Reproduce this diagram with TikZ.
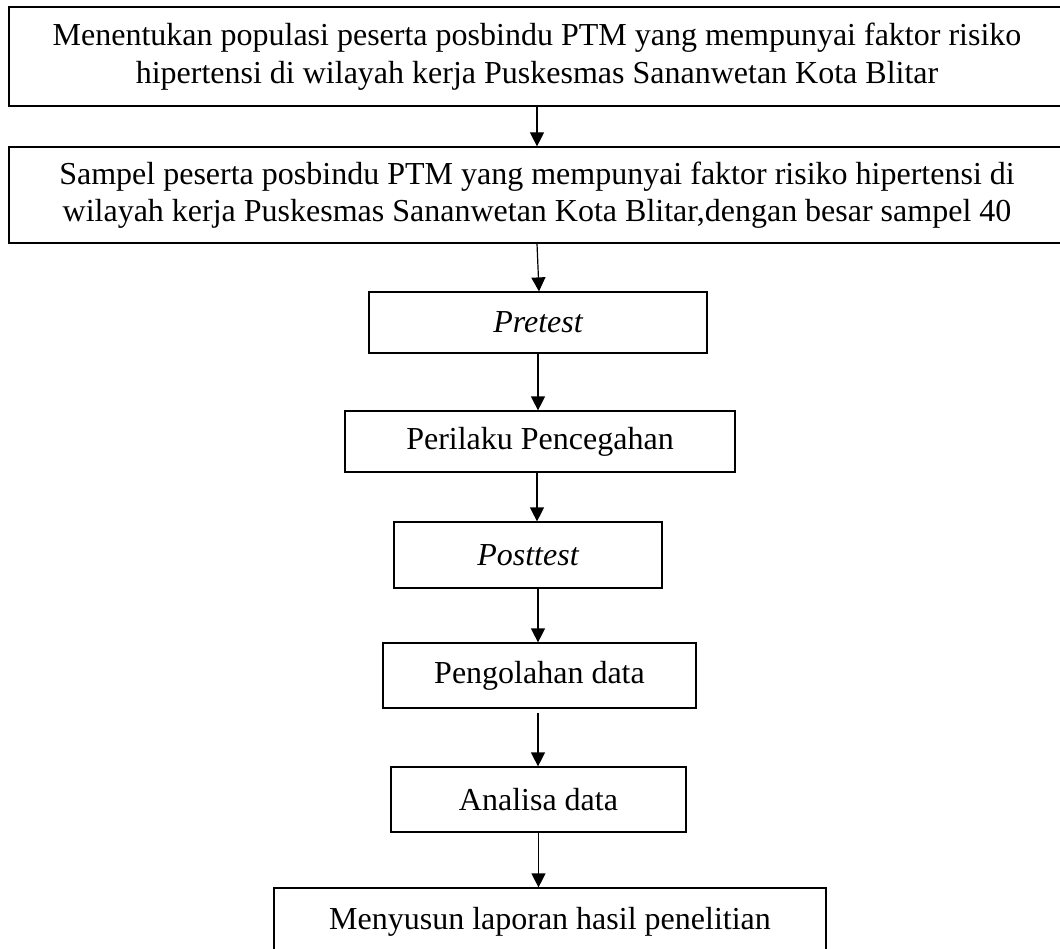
\documentclass[tikz,border=0pt]{standalone}
\usepackage{fontspec}
\setmainfont{Liberation Serif}
\usetikzlibrary{arrows.meta}
\begin{document}
\begin{tikzpicture}[x=1pt,y=-1pt,
  box/.style={draw=black,line width=1.2pt,inner sep=0pt,align=center,
    font=\fontsize{32}{37.5}\selectfont},
  arr/.style={line width=1.2pt,-{Triangle[length=14pt,width=14pt]}}]
\useasboundingbox (0,0) rectangle (1060,949);
\node[box,minimum width=1056pt,minimum height=99pt] (b1) at (537,56.5)
  {Menentukan populasi peserta posbindu PTM yang mempunyai faktor risiko\\
   hipertensi di wilayah kerja Puskesmas Sananwetan Kota Blitar};
\node[box,minimum width=1056pt,minimum height=96pt] (b2) at (537,195)
  {Sampel peserta posbindu PTM yang mempunyai faktor risiko hipertensi di\\
   wilayah kerja Puskesmas Sananwetan Kota Blitar,dengan besar sampel 40};
\node[box,minimum width=338pt,minimum height=61pt] (b3) at (538,322.5) {\itshape Pretest};
\node[box,minimum width=390pt,minimum height=61pt] (b4) at (540,441.5) {Perilaku Pencegahan};
\node[box,minimum width=268pt,minimum height=66pt] (b5) at (528,555) {\itshape Posttest};
\node[box,minimum width=313pt,minimum height=65pt] (b6) at (539.5,675.5) {Pengolahan data};
\node[box,minimum width=295pt,minimum height=65pt] (b7) at (538.5,799.5) {Analisa data};
\node[box,minimum width=552pt,minimum height=68pt] (b8) at (550,922) {Menyusun laporan hasil penelitian};
\draw[arr] (b1.south) -- (b1.south |- b2.north);
\draw[arr] ([xshift=-1pt]b3.north |- b2.south) -- ([xshift=1pt]b3.north);
\draw[arr] (b3.south) -- (b3.south |- b4.north);
\draw[arr] ([xshift=-3pt]b4.south) -- ([xshift=-3pt]b4.south |- b5.north);
\draw[arr] ([xshift=-1.5pt]b6.north |- b5.south) -- ([xshift=-1.5pt]b6.north);
\draw[arr] ([xshift=-1.5pt,yshift=-4pt]b6.south) -- ([xshift=-1.5pt]b6.south |- b7.north);
\draw[arr] (b7.south) -- (b7.south |- b8.north);
\end{tikzpicture}
\end{document}
